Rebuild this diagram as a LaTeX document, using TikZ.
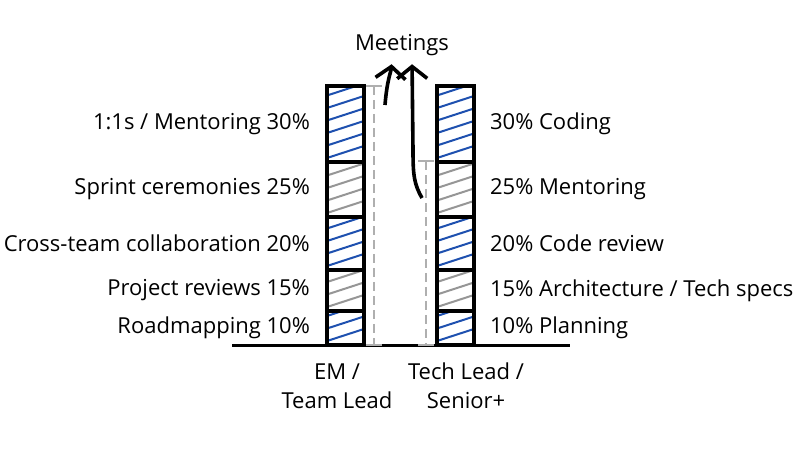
\documentclass[tikz,border=0pt]{standalone}
\usepackage{fontspec}
\setmainfont{Open Sans}
\usetikzlibrary{positioning,arrows.meta}

\begin{document}
\begin{tikzpicture}[x=1pt, y=1pt, every node/.style={font=\fontsize{22}{29}\selectfont}]
  \definecolor{coulb}{RGB}{30,80,175} \definecolor{coulg}{RGB}{150,150,150} \definecolor{coulr}{RGB}{175,175,175}
  \tikzstyle{seg}=[draw, line width=3.2pt, minimum width=37pt, inner sep=0pt]
  \tikzset{hatch/.style={path picture={\foreach \k in {4,16.5,...,80} \draw[line width=2pt, #1] ([yshift=\k]path picture bounding box.south west) -- ++(40,13);}}}
  \tikzstyle{dim}=[draw=coulr, line width=1.5pt, dash pattern=on 9pt off 5pt]
  \tikzstyle{tick}=[draw=coulr, line width=1.5pt]
  \tikzset{meetarrow/.style={line width=3.6pt, shorten >=5pt, -{Straight Barb[length=12pt, width=30pt]}}}
  \useasboundingbox (0,0) rectangle (800,450);
  \foreach \i/\y/\h/\c in {1/326/76/coulb, 2/260.5/55/coulg, 3/206.5/53/coulb, 4/159.5/41/coulg, 5/122/34/coulb} {
    \node[seg, minimum height=\h, hatch=\c] (em\i) at (345.5, \y) {};
    \node[seg, minimum height=\h, hatch=\c] (tl\i) at (455.5, \y) {};
  }
  \foreach \i/\t in {1/{1:1s / Mentoring 30\%}, 2/{Sprint ceremonies 25\%}, 3/{Cross-team collaboration 20\%}, 4/{Project reviews 15\%}, 5/{Roadmapping 10\%}}
    \node[left=12pt of em\i] (emlab\i) {\t};
  \foreach \i/\t in {1/{30\% Coding}, 2/{25\% Mentoring}, 3/{20\% Code review}, 4/{15\% Architecture / Tech specs}, 5/{10\% Planning}}
    \node[right=11pt of tl\i] (tllab\i) {\t};
  \node[align=center] (emrole) at (337, 64) {EM /\\Team Lead};
  \node[align=center] (tlrole) at (466, 64) {Tech Lead /\\Senior+};
  \node (meet) at (402, 405) {Meetings};
  % ground
  \draw[line width=3pt] (232,105) -- (570,105);
  \coordinate (emtop) at (374,364); \coordinate (embot) at (374,105);
  \coordinate (tltop) at (426,289); \coordinate (tlbot) at (426,105);
  \draw[dim] (emtop) -- (embot);
  \draw[dim] (tltop) -- (tlbot);
  \foreach \p in {emtop, embot, tltop, tlbot} \draw[tick] ([xshift=-8]\p) -- ([xshift=8]\p);
  \coordinate (emout) at (385,345); \coordinate (tlout) at (422,252);
  \draw[meetarrow] (emout) .. controls (387,370) and (391,378) .. ([xshift=-10]meet.south);
  \draw[meetarrow] (tlout) .. controls (414,266) and (413,275) .. (413,300) -- ([xshift=10]meet.south);
\end{tikzpicture}
\end{document}
